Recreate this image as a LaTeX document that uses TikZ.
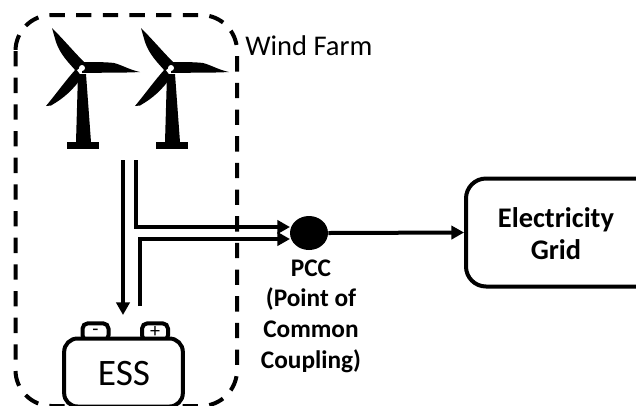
\documentclass[tikz,border=0pt]{standalone}
\usepackage{fontspec}
\setmainfont{Carlito}
\usetikzlibrary{arrows.meta,shapes.geometric}
\tikzset{
  line/.style={line width=3pt,draw=black},
  conn/.style={line, -{Triangle[length=9.5pt,width=10pt]}},
  lbl/.style={inner sep=0pt,align=center,font=\fontsize{19}{23}\selectfont\bfseries},
  term/.style={line,rounded corners=4pt,minimum width=19.5pt,minimum height=13pt,inner sep=0pt,font=\fontsize{15}{15}\selectfont},
}
\newcommand{\turbine}[1]{%
\begin{scope}[shift={(#1,68)}]
  \fill (-30,-40) .. controls (-18,-28) and (-8,-16) .. (3,-5) -- (-6,3) .. controls (-14,-6) and (-22,-14) .. (-26,-26) -- cycle;
  \fill (0,-6) .. controls (12,-6) and (24,-6) .. (32,-5) .. controls (40,-3) and (48,2) .. (58,4) .. controls (40,5) and (20,4.5) .. (0,5) -- cycle;
  \fill (-36,38) .. controls (-26,26) and (-16,12) .. (-6,1) -- (0,9) .. controls (-9,22) and (-18,30) .. (-31,37.5) -- cycle;
  \fill (-4,6) -- (4,6) -- (9,74) -- (-6,74) -- cycle;
  \fill (-15,74) rectangle (17,81);
  \fill[white] (0,0) circle (3);
\end{scope}}
\begin{document}
\begin{tikzpicture}[x=0.75pt,y=-0.75pt]
\useasboundingbox (0,0) rectangle (636,405);
\begin{scope}
\clip (0,0) rectangle (636,405);
\draw[line,dash pattern=on 11.5pt off 8.5pt,rounded corners=27pt] (15.5,15) rectangle (237,406);
\turbine{82}
\turbine{171}
% battery
\node[term] (neg) at (95.5,332) {-};
\node[term] (pos) at (155,332) {+};
\node[line,fill=white,rounded corners=10pt,minimum width=89pt,minimum height=51pt,inner sep=0pt] (ess) at (123.5,372.5) {};
\node[inner sep=0pt,font=\fontsize{28}{30}\selectfont] (esslbl) at (124,374) {ESS};
% grid
\node[line,rounded corners=15pt,minimum width=144pt,minimum height=81pt,inner sep=0pt] (grid) at (562,232.5) {};
\node[lbl,font=\fontsize{21.3}{24}\selectfont\bfseries] (gridlbl) at (556,234) {Electricity\\Grid};
\end{scope}
\node[ellipse,fill=black,inner sep=0pt,minimum width=28.5pt,minimum height=25.5pt] (pcc) at (309,233) {};
\node[lbl] (pcclbl) at (311,316) {PCC\\(Point of\\Common\\Coupling)};
\node[inner sep=0pt,anchor=west,font=\fontsize{21.4}{24}\selectfont] (wf) at (245,46) {Wind Farm};
\coordinate (a1) at (123,160);
\coordinate (a2) at (123,315);
\coordinate (b1) at (136,160);
\coordinate (b2) at (136,227);
\coordinate (b3) at (290,227);
\coordinate (c1) at (140,306);
\coordinate (c2) at (140,239);
\coordinate (c3) at (290,239);
\draw[conn] (a1) -- (a2);
\draw[conn] (b1) -- (b2) -- (b3);
\draw[conn] (c1) -- (c2) -- (c3);
\draw[conn] (pcc.east) -- (grid.west);
\end{tikzpicture}
\end{document}
